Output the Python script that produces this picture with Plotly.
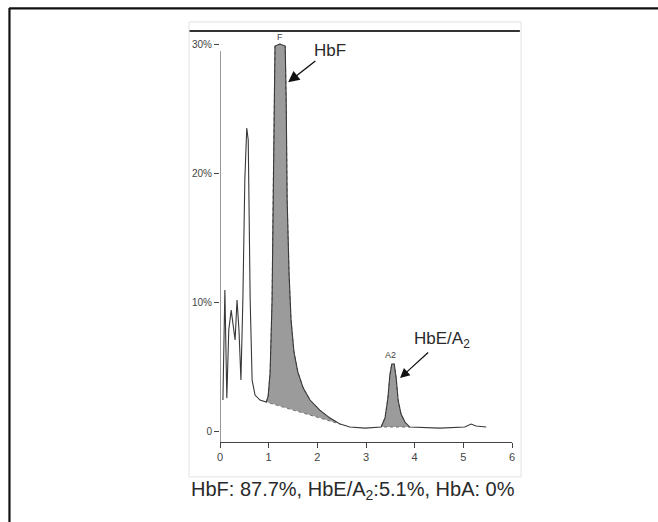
import plotly.graph_objects as go

# Chromatogram: retention time (min) vs. signal (% of full scale)
time_min = [0.06, 0.10, 0.14, 0.18, 0.23, 0.27, 0.31, 0.35, 0.39, 0.43,
            0.47, 0.51, 0.55, 0.58, 0.62, 0.66, 0.72, 0.82, 0.95, 0.99,
            1.03, 1.07, 1.09, 1.11, 1.13, 1.23, 1.34, 1.36, 1.38, 1.42,
            1.46, 1.52, 1.60, 1.71, 1.85, 2.05, 2.26, 2.47, 2.67, 2.98,
            3.31, 3.39, 3.45, 3.49, 3.53, 3.58, 3.62, 3.66, 3.72, 3.80,
            3.90, 4.52, 5.03, 5.16, 5.26, 5.47]
signal_pct = [2.41, 10.96, 2.56, 7.85, 9.40, 8.24, 7.07, 10.18, 7.85, 3.96,
              10.18, 19.50, 23.54, 22.61, 10.18, 3.96, 2.80, 2.41, 2.25, 2.72,
              4.58, 10.18, 17.95, 24.94, 29.91, 30.07, 29.91, 25.72, 17.95, 12.12,
              8.62, 6.14, 4.58, 3.34, 2.41, 1.63, 1.01, 0.54, 0.31, 0.23,
              0.31, 1.01, 2.56, 4.35, 5.21, 5.21, 4.12, 2.41, 1.32, 0.70,
              0.31, 0.23, 0.31, 0.54, 0.39, 0.31]

# Integrated peak windows (start, end) in minutes
hbf_window = (0.95, 2.47)
hbe_window = (3.31, 3.90)

x_ticks = [0, 1, 2, 3, 4, 5, 6]
y_ticks = [0, 10, 20, 30]
y_tick_text = ["0", "10%", "20%", "30%"]

caption = "HbF: 87.7%, HbE/A<sub>2</sub>:5.1%, HbA: 0%"

FONT = "Liberation Sans, Arial, sans-serif"
INK = "#2a2a2a"


def peak_polygon(window):
    """Area between the trace and a straight baseline across the window."""
    lo, hi = window
    xs = [t for t in time_min if lo <= t <= hi]
    ys = [s for t, s in zip(time_min, signal_pct) if lo <= t <= hi]
    return xs + [xs[-1], xs[0]], ys + [ys[-1], ys[0]]


fig = go.Figure()

for win in (hbf_window, hbe_window):
    px, py = peak_polygon(win)
    fig.add_trace(go.Scatter(
        x=px, y=py, mode="lines", fill="toself",
        fillcolor="rgb(155,155,155)",
        line=dict(color="rgb(90,90,90)", width=0.8, dash="dot"),
        hoverinfo="skip", showlegend=False))

fig.add_trace(go.Scatter(
    x=time_min, y=signal_pct, mode="lines",
    line=dict(color="#383838", width=1.1),
    showlegend=False))

x0, x1 = 0, 6
y0, y1 = -0.85, 31.08

shapes = [
    # y axis line
    dict(type="line", xref="x", yref="y", x0=0, x1=0, y0=y0, y1=29.5,
         line=dict(color="#555555", width=1.2)),
    # dark rule at top of the panel
    dict(type="line", xref="paper", yref="paper", x0=-0.106, x1=1.027,
         y0=1.0, y1=1.0, line=dict(color="#333333", width=2)),
    # light panel frame
    dict(type="rect", xref="paper", yref="paper", x0=-0.106, x1=1.031,
         y0=-0.085, y1=1.022, line=dict(color="#e2e2e2", width=1)),
    # outer border (left and top edges)
    dict(type="line", xref="paper", yref="paper", x0=-0.721, x1=-0.721,
         y0=-0.2, y1=1.056, line=dict(color="#111111", width=2.2)),
    dict(type="line", xref="paper", yref="paper", x0=-0.722, x1=1.55,
         y0=1.055, y1=1.055, line=dict(color="#111111", width=2.2)),
]

annotations = [
    # peak names with arrows pointing at the peaks
    dict(x=1.40, y=27.1, ax=2.25, ay=29.6, axref="x", ayref="y",
         text="HbF", showarrow=True, arrowhead=2, arrowsize=1.6,
         arrowwidth=1.4, arrowcolor="#111111", standoff=0,
         font=dict(family=FONT, size=17, color=INK)),
    dict(x=3.70, y=4.12, ax=4.56, ay=7.07, axref="x", ayref="y",
         text="HbE/A<sub>2</sub>", showarrow=True, arrowhead=2,
         arrowsize=1.6, arrowwidth=1.2, arrowcolor="#111111", standoff=0,
         font=dict(family=FONT, size=17, color=INK)),
    # peak tags
    dict(x=3.50, y=5.9, text="A2", showarrow=False,
         font=dict(family=FONT, size=9, color="#444444")),
    dict(x=1.23, y=30.6, text="F", showarrow=False,
         font=dict(family=FONT, size=9, color="#444444")),
    dict(x=0.454, y=-0.119, xref="paper", yref="paper", text=caption,
         showarrow=False, xanchor="center", yanchor="middle",
         font=dict(family=FONT, size=20, color=INK)),
]

fig.update_layout(
    width=658, height=522,
    margin=dict(l=220, r=146, t=31, b=80),
    paper_bgcolor="white", plot_bgcolor="white",
    shapes=shapes, annotations=annotations,
    xaxis=dict(range=[x0, x1], tickvals=x_ticks, ticks="outside",
               ticklen=5, tickcolor="#444444", showline=True,
               linecolor="#444444", linewidth=1.2, showgrid=False,
               zeroline=False,
               tickfont=dict(family=FONT, size=11, color="#444444")),
    yaxis=dict(range=[y0, y1], tickvals=y_ticks, ticktext=y_tick_text,
               ticks="outside", ticklen=5, tickcolor="#444444",
               showline=False, showgrid=False, zeroline=False,
               tickfont=dict(family=FONT, size=10, color="#444444")),
)

fig.write_html("out.html")
